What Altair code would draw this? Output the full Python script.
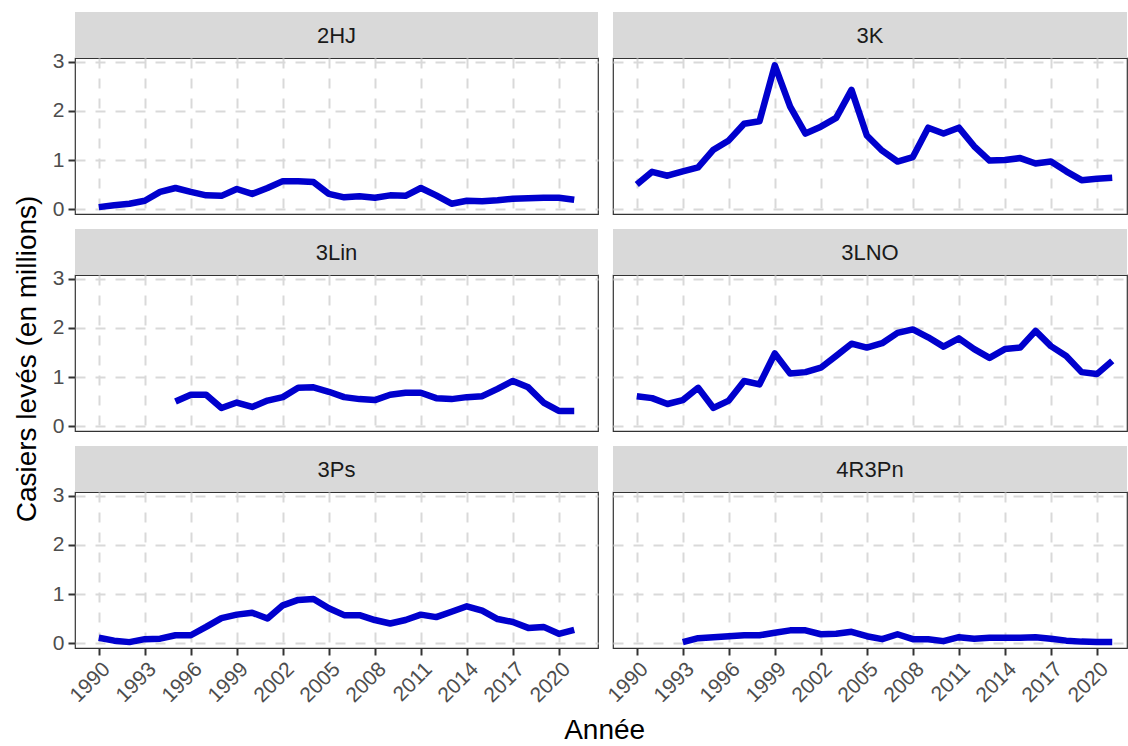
import altair as alt
import pandas as pd

FONT = "Liberation Sans"

years = list(range(1990, 2022))
areas = ["2HJ", "3K", "3Lin", "3LNO", "3Ps", "4R3Pn"]

v_2HJ = [0.04, 0.08, 0.11, 0.17, 0.35, 0.43, 0.35, 0.28, 0.27, 0.41, 0.31, 0.43,
         0.57, 0.57, 0.55, 0.31, 0.24, 0.26, 0.23, 0.28, 0.27, 0.43, 0.28, 0.11,
         0.17, 0.16, 0.18, 0.21, 0.22, 0.23, 0.23, 0.19]
v_3K = [0.50, 0.76, 0.68, 0.77, 0.85, 1.21, 1.40, 1.74, 1.79, 2.93, 2.09, 1.54,
        1.68, 1.86, 2.43, 1.50, 1.19, 0.97, 1.06, 1.66, 1.54, 1.66, 1.28, 0.99,
        1.00, 1.04, 0.93, 0.97, 0.77, 0.59, 0.62, 0.64]
y_3Lin = list(range(1995, 2022))
v_3Lin = [0.50, 0.64, 0.64, 0.37, 0.48, 0.39, 0.52, 0.59, 0.78, 0.79, 0.70, 0.59,
          0.55, 0.53, 0.64, 0.68, 0.68, 0.57, 0.55, 0.59, 0.61, 0.76, 0.92, 0.79,
          0.48, 0.31, 0.31]
v_3LNO = [0.61, 0.57, 0.45, 0.53, 0.78, 0.37, 0.52, 0.92, 0.85, 1.48, 1.07, 1.10,
          1.19, 1.43, 1.68, 1.60, 1.69, 1.90, 1.97, 1.81, 1.62, 1.79, 1.57, 1.39,
          1.57, 1.60, 1.94, 1.63, 1.43, 1.10, 1.06, 1.33]
v_3Ps = [0.11, 0.05, 0.02, 0.08, 0.09, 0.16, 0.16, 0.33, 0.51, 0.58, 0.62, 0.50,
         0.77, 0.88, 0.90, 0.71, 0.57, 0.57, 0.47, 0.40, 0.47, 0.58, 0.53, 0.64,
         0.75, 0.66, 0.49, 0.43, 0.31, 0.33, 0.19, 0.27]
y_4R3Pn = list(range(1993, 2022))
v_4R3Pn = [0.02, 0.10, 0.12, 0.14, 0.16, 0.16, 0.21, 0.26, 0.26, 0.18, 0.19, 0.23,
           0.14, 0.08, 0.18, 0.08, 0.08, 0.04, 0.12, 0.09, 0.11, 0.11, 0.11, 0.12,
           0.09, 0.05, 0.03, 0.02, 0.02]

x_ticks = list(range(1990, 2021, 3))
y_ticks = [0, 1, 2, 3]

series = {
    "2HJ": (years, v_2HJ),
    "3K": (years, v_3K),
    "3Lin": (y_3Lin, v_3Lin),
    "3LNO": (years, v_3LNO),
    "3Ps": (years, v_3Ps),
    "4R3Pn": (y_4R3Pn, v_4R3Pn),
}
rows = []
for a in areas:
    ys, vs = series[a]
    for yr, v in zip(ys, vs):
        rows.append({"area": a, "year": yr, "value": v})
df = pd.DataFrame(rows)

LEFT_W = 523
RIGHT_W = 514
PLOT_H = 156
STRIP_H = 46
X_MIN = 1988.45
X_MAX_L = 2022.55
PX_PER_YEAR = LEFT_W / (X_MAX_L - X_MIN)
X_MAX_R = X_MIN + RIGHT_W / PX_PER_YEAR
Y_DOM = [-0.10, 3.08]
GRID = "#D9D9D9"
DARK = "#333333"


def panel(name, col, bottom):
    w = LEFT_W if col == 0 else RIGHT_W
    xmax = X_MAX_L if col == 0 else X_MAX_R
    show_x = bottom
    show_y = col == 0
    d = df[df["area"] == name]
    xaxis = alt.Axis(values=x_ticks, format="d", grid=True, gridDash=[10, 10],
                     gridColor=GRID, gridWidth=2, domain=False,
                     labels=show_x, ticks=show_x, tickSize=7, tickWidth=2,
                     tickColor=DARK, labelAngle=315, labelAlign="right",
                     labelBaseline="top", labelPadding=3, labelFont=FONT,
                     labelFontSize=21, labelColor="#4D4D4D", labelFlush=False,
                     labelOverlap=False, title=None)
    yaxis = alt.Axis(values=y_ticks, grid=True, gridDash=[10, 10],
                     gridColor=GRID, gridWidth=2, domain=False,
                     labels=show_y, ticks=show_y, tickSize=7, tickWidth=2,
                     tickColor=DARK, labelPadding=4, labelFont=FONT,
                     labelFontSize=21, labelColor="#4D4D4D", labelFlush=False,
                     labelOverlap=False, title=None)
    line = alt.Chart(d).mark_line(color="#0000CD", strokeWidth=6.5,
                                  strokeJoin="round", strokeCap="butt").encode(
        x=alt.X("year:Q", scale=alt.Scale(domain=[X_MIN, xmax], nice=False, zero=False),
                axis=xaxis),
        y=alt.Y("value:Q", scale=alt.Scale(domain=Y_DOM, nice=False, zero=False),
                axis=yaxis),
    )
    sdata = alt.Chart(pd.DataFrame({"lab": [name]}))
    srect = sdata.mark_rect(fill="#D9D9D9").encode(
        x=alt.value(0), x2=alt.value(w), y=alt.value(-STRIP_H), y2=alt.value(0)
    )
    stext = sdata.mark_text(font=FONT, fontSize=22, color="#1A1A1A",
                            align="center", baseline="middle").encode(
        x=alt.value(w / 2), y=alt.value(-STRIP_H / 2 + 1), text="lab:N"
    )
    return alt.layer(line, srect, stext).properties(
        width=w, height=PLOT_H,
        view=alt.ViewBackground(stroke=DARK, strokeWidth=1.2, fill="white"))


charts = []
for i, a in enumerate(areas):
    charts.append(panel(a, i % 2, i >= 4))

inner = alt.concat(*charts, columns=2, spacing={"row": 15 + STRIP_H, "column": 15},
                   bounds="flush").properties(
    title=alt.TitleParams("Casiers levés (en millions)", orient="left", anchor="middle",
                          font=FONT, fontSize=28, fontWeight="normal", color="black",
                          offset=10)
)

chart = alt.vconcat(inner).properties(
    title=alt.TitleParams("Année", orient="bottom", anchor="middle",
                          font=FONT, fontSize=28, fontWeight="normal", color="black",
                          offset=11, dx=34),
    padding={"left": 13, "top": 11, "right": 0, "bottom": 0},
    background="white",
).configure_view(strokeWidth=0)

chart.save("out.html", embed_options={"renderer": "svg", "actions": False})
